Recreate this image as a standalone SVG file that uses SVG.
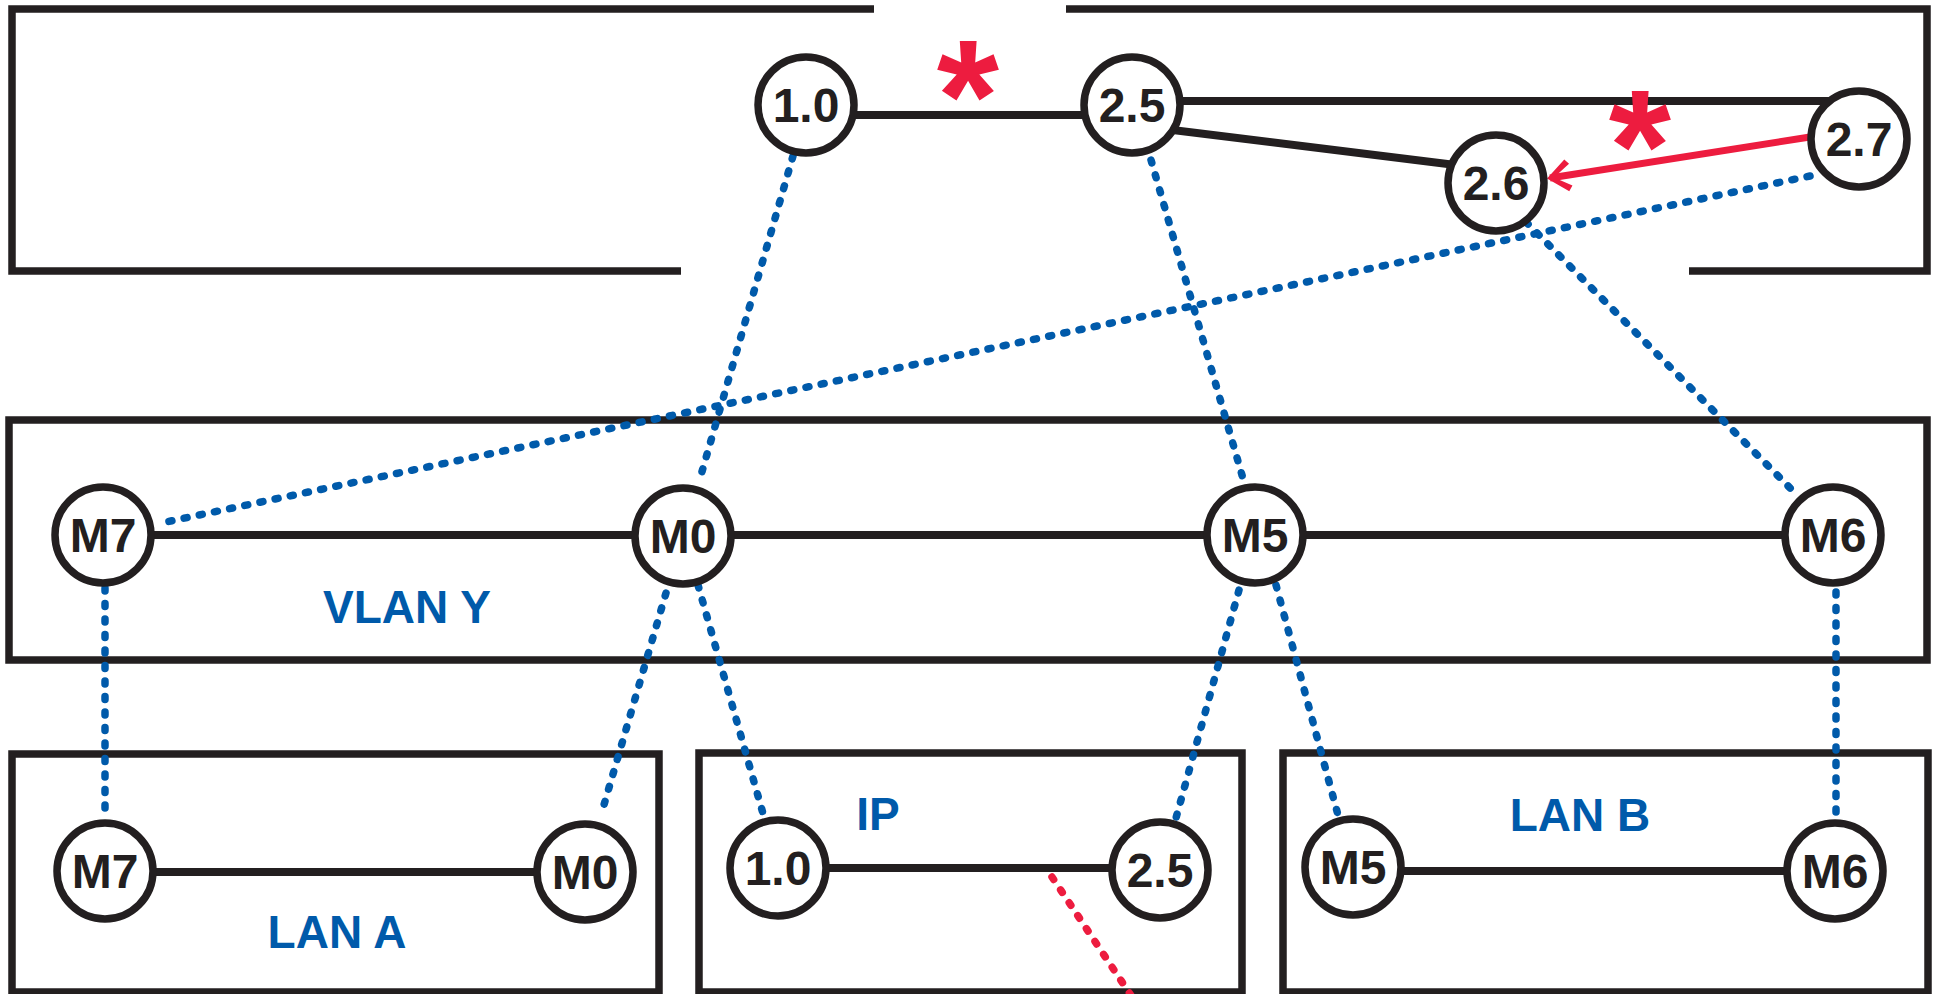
<svg xmlns="http://www.w3.org/2000/svg" width="1942" height="994" viewBox="0 0 1942 994">
  <style>
    .frame { fill: none; stroke: #231F20; stroke-width: 7.5; stroke-linejoin: miter; }
    .edge { fill: none; stroke: #231F20; stroke-width: 8; }
    .link { fill: none; stroke: #005AAA; stroke-width: 7.5; stroke-linecap: round; stroke-dasharray: 3 12.5; }
    .fault { fill: none; stroke: #ED1C3F; stroke-width: 7.5; stroke-linecap: round; stroke-dasharray: 3 12.5; }
    .redir { fill: none; stroke: #ED1C3F; stroke-width: 7; }
    .node circle { fill: #FFFFFF; stroke: #231F20; stroke-width: 7.5; }
    .node text { font-family: "Liberation Sans", Arial, sans-serif; font-weight: bold; font-size: 48px; text-anchor: middle; fill: #231F20; }
    .lbl { font-family: "Liberation Sans", Arial, sans-serif; font-weight: bold; font-size: 46px; text-anchor: middle; fill: #005AAA; }
    .star { font-family: "Liberation Sans", Arial, sans-serif; font-weight: bold; font-size: 160px; text-anchor: middle; fill: #ED1C3F; }
  </style>
  <defs>
    <marker id="barb" markerUnits="userSpaceOnUse" viewBox="-26 -20 32 40" markerWidth="32" markerHeight="40" refX="0" refY="0" orient="auto">
      <path d="M3,0 L-17,-16 L-21,-11 L-4,0 L-21,11 L-17,16 Z" fill="#ED1C3F"/>
    </marker>
  </defs>

  <rect width="1942" height="994" fill="#FFFFFF"/>

  <!-- area frames -->
  <g id="frames">
    <path class="frame" d="M874,9 H12 V271 H681"/>
    <path class="frame" d="M1066,9 H1927 V271 H1689"/>
    <rect id="vlan-y" class="frame" x="9" y="420" width="1918" height="240"/>
    <rect id="lan-a" class="frame" x="12" y="754" width="647" height="238"/>
    <rect id="ip" class="frame" x="699" y="753" width="543" height="239"/>
    <rect id="lan-b" class="frame" x="1283" y="753" width="645" height="239"/>
  </g>

  <g id="labels">
    <text class="lbl" x="407" y="623">VLAN Y</text>
    <text class="lbl" x="337" y="948">LAN A</text>
    <text class="lbl" x="878" y="830">IP</text>
    <text class="lbl" x="1580" y="831">LAN B</text>
  </g>

  <g id="connectors">
    <!-- physical links -->
    <line class="edge" x1="806" y1="115" x2="1132" y2="115"/>
    <line class="edge" x1="1132" y1="101" x2="1845" y2="101"/>
    <line class="edge" x1="1132" y1="125" x2="1496" y2="170"/>
    <line class="edge" x1="103" y1="535" x2="1832" y2="535"/>
    <line class="edge" x1="105" y1="872" x2="584" y2="872"/>
    <line class="edge" x1="778" y1="868" x2="1160" y2="868"/>
    <line class="edge" x1="1353" y1="871" x2="1835" y2="871"/>

    <!-- layer mappings -->
    <line class="link" x1="793" y1="156" x2="699" y2="482"/>
    <line class="link" x1="1151" y1="160" x2="1244" y2="482"/>
    <line class="link" x1="1526" y1="222" x2="1797" y2="495"/>
    <line class="link" x1="1810" y1="176" x2="166" y2="522"/>
    <line class="link" x1="105" y1="588" x2="105" y2="810"/>
    <line class="link" x1="666" y1="593" x2="601" y2="815"/>
    <line class="link" x1="698" y1="585" x2="764" y2="817"/>
    <line class="link" x1="1239" y1="590" x2="1176" y2="818"/>
    <line class="link" x1="1276" y1="585" x2="1338" y2="815"/>
    <line class="link" x1="1836" y1="592" x2="1836" y2="818"/>

    <!-- fault path and redirect -->
    <line class="fault" x1="1052" y1="877" x2="1132" y2="997"/>
    <line class="redir" x1="1810" y1="137" x2="1550" y2="178" marker-end="url(#barb)"/>
  </g>

  <!-- router nodes -->
  <g id="n-top-1-0" class="node"><circle cx="806" cy="105" r="48"/><text x="806" y="122">1.0</text></g>
  <g id="n-top-2-5" class="node"><circle cx="1132" cy="105" r="48"/><text x="1132" y="122">2.5</text></g>
  <g id="n-top-2-6" class="node"><circle cx="1496" cy="183" r="48"/><text x="1496" y="200">2.6</text></g>
  <g id="n-top-2-7" class="node"><circle cx="1859" cy="139" r="48"/><text x="1859" y="156">2.7</text></g>

  <g id="n-vlan-m7" class="node"><circle cx="103" cy="535" r="48"/><text x="103" y="552">M7</text></g>
  <g id="n-vlan-m0" class="node"><circle cx="683" cy="536" r="48"/><text x="683" y="553">M0</text></g>
  <g id="n-vlan-m5" class="node"><circle cx="1255" cy="535" r="48"/><text x="1255" y="552">M5</text></g>
  <g id="n-vlan-m6" class="node"><circle cx="1833" cy="535" r="48"/><text x="1833" y="552">M6</text></g>

  <g id="n-lana-m7" class="node"><circle cx="105" cy="871" r="48"/><text x="105" y="888">M7</text></g>
  <g id="n-lana-m0" class="node"><circle cx="585" cy="872" r="48"/><text x="585" y="889">M0</text></g>
  <g id="n-ip-1-0" class="node"><circle cx="778" cy="868" r="48"/><text x="778" y="885">1.0</text></g>
  <g id="n-ip-2-5" class="node"><circle cx="1160" cy="870" r="48"/><text x="1160" y="887">2.5</text></g>
  <g id="n-lanb-m5" class="node"><circle cx="1353" cy="867" r="48"/><text x="1353" y="884">M5</text></g>
  <g id="n-lanb-m6" class="node"><circle cx="1835" cy="871" r="48"/><text x="1835" y="888">M6</text></g>

  <!-- failure marks -->
  <g id="marks">
    <text class="star" x="968" y="151">*</text>
    <text class="star" x="1640" y="201">*</text>
  </g>
</svg>
